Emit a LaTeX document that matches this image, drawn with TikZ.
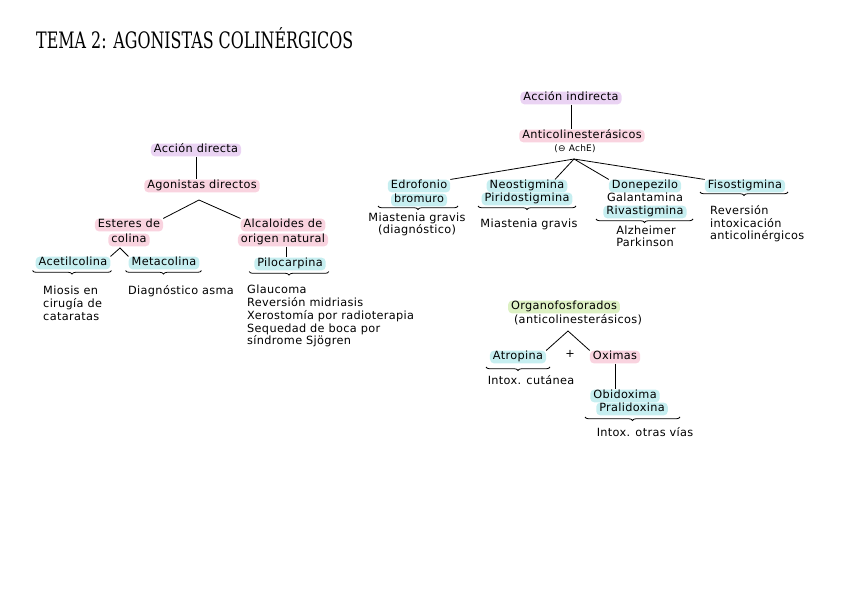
\documentclass[tikz,border=0pt]{standalone}
\usepackage{fontspec}
\setmainfont{DejaVu Sans}[LetterSpace=3]
\newfontfamily\titlefont{DejaVu Serif}
\usetikzlibrary{decorations.pathreplacing}
\definecolor{hlpur}{HTML}{EAD3F3}
\definecolor{hlpink}{HTML}{F9D3DF}
\definecolor{hlcyan}{HTML}{C6EEF0}
\definecolor{hlgreen}{HTML}{DDF1C3}
\tikzset{
  txt/.style={font=\fontsize{11.3}{12.8}\selectfont, text height=8.3pt, text depth=2.4pt, inner sep=1pt},
  lst/.style={font=\fontsize{11.3}{12.8}\selectfont, inner sep=0pt, align=left, anchor=north west},
  hl/.style={txt, rounded corners=4pt, inner xsep=3pt},
  pur/.style={hl, fill=hlpur},
  pnk/.style={hl, fill=hlpink},
  cyn/.style={hl, fill=hlcyan},
  grn/.style={hl, fill=hlgreen},
  ln/.style={line width=0.8pt},
  br/.style={line width=0.8pt, decorate, decoration={brace, mirror, amplitude=3.5pt}}
}
\begin{document}
\begin{tikzpicture}[x=1pt,y=-1pt]
\useasboundingbox (0,0) rectangle (848,600);
% title
\node[anchor=base west, inner sep=0pt] (title) at (36,48) {\resizebox{317pt}{21pt}{\titlefont TEMA 2: AGONISTAS COLINÉRGICOS}};

% ---------------- left tree
\node[pur] (ad) at (196,150) {Acción directa};
\node[pnk] (ag) at (202,186) {Agonistas directos};
\draw[ln] (ad.south) -- (ad.south |- ag.north);
\coordinate (agap) at (199,200);
\node[pnk] (es1) at (129,225) {Esteres de};
\node[pnk] (es2) at (129,240) {colina};
\node[pnk] (al1) at (283,225) {Alcaloides de};
\node[pnk] (al2) at (283,240) {origen natural};
\draw[ln] (es1.north east) -- (agap) -- (al1.north west);
\coordinate (esap) at (120,248);
\node[cyn] (ace) at (73,263) {Acetilcolina};
\node[cyn] (met) at (164,263) {Metacolina};
\draw[ln] (ace.north east) -- (esap) -- (met.north west);
\draw[br] ([xshift=-3pt,yshift=-1pt]ace.south west) -- ([xshift=1pt,yshift=-1pt]ace.south east);
\draw[br] ([xshift=-3pt,yshift=-1pt]met.south west) -- ([xshift=2pt,yshift=-1pt]met.south east);
\node[lst] (ace-t) at (43,286) {Miosis en\\cirugía de\\cataratas};
\node[lst] (met-t) at (128,285) {Diagnóstico asma};
\node[cyn] (pil) at (290,264) {Pilocarpina};
\draw[ln] ([xshift=3pt]al2.south) -- ([xshift=3pt]al2.south |- pil.north);
\draw[br] ([xshift=-5pt,yshift=-1pt]pil.south west) -- ([xshift=3pt,yshift=-1pt]pil.south east);
\node[lst] (pil-t) at (247,285) {Glaucoma\\Reversión midriasis\\Xerostomía por radioterapia\\Sequedad de boca por\\síndrome Sjögren};

% ---------------- right tree
\node[pur] (ai) at (571,98) {Acción indirecta};
\node[pnk] (ac) at (582,136) {Anticolinesterásicos};
\node[txt, font=\fontsize{9}{10}\selectfont] (ache) at (575,149) {(⊖ AchE)};
\draw[ln] (ai.south) -- (ai.south |- ac.north);
\coordinate (acap) at (574,159);
\node[cyn] (edr1) at (419,186) {Edrofonio};
\node[cyn] (edr2) at (419,200) {bromuro};
\node[cyn] (neo1) at (527,186) {Neostigmina};
\node[cyn] (neo2) at (527,199) {Piridostigmina};
\node[cyn] (don1) at (645,186) {Donepezilo};
\node[txt] (don2) at (645,199) {Galantamina};
\node[cyn] (don3) at (645,212) {Rivastigmina};
\node[cyn] (fis) at (745,186) {Fisostigmina};
\draw[ln] (edr1.north east) -- (acap);
\draw[ln] ([xshift=28pt]neo1.north) -- (acap);
\draw[ln] (don1.north west) -- (acap);
\draw[ln] (fis.north west) -- (acap);
\draw[br] (378,206) -- (458,206);
\draw[br] (478,206) -- (576,206);
\draw[br] (596,219) -- (693,219);
\draw[br] (700,192) -- (788,192);
\node[txt, align=center] (edr-t) at (417,231) {Miastenia gravis\\(diagnóstico)};
\node[txt] (neo-t) at (529,225) {Miastenia gravis};
\node[txt, align=left] (don-t) at (646,244) {Alzheimer\\Parkinson};
\node[lst] (fis-t) at (710,205) {Reversión\\intoxicación\\anticolinérgicos};

% ---------------- organofosforados
\node[grn] (org) at (564,307) {Organofosforados};
\node[txt] (org2) at (578,321) {(anticolinesterásicos)};
\coordinate (orgap) at (568,331);
\node[cyn] (atr) at (518,357) {Atropina};
\node[txt] (plus) at (570,355) {+};
\node[pnk] (oxi) at (615,357) {Oximas};
\draw[ln] (atr.north east) -- (orgap) -- (oxi.north west);
\draw[br] (486,367) -- (550,367);
\node[txt] (atr-t) at (531,382) {Intox. cutánea};
\node[cyn] (obi1) at (625,396) {Obidoxima};
\node[cyn] (obi2) at (632,409) {Pralidoxina};
\draw[ln] (oxi.south) -- (oxi.south |- obi1.north);
\draw[br] (585,417) -- (680,417);
\node[txt] (obi-t) at (645,434) {Intox. otras vías};
\end{tikzpicture}
\end{document}
